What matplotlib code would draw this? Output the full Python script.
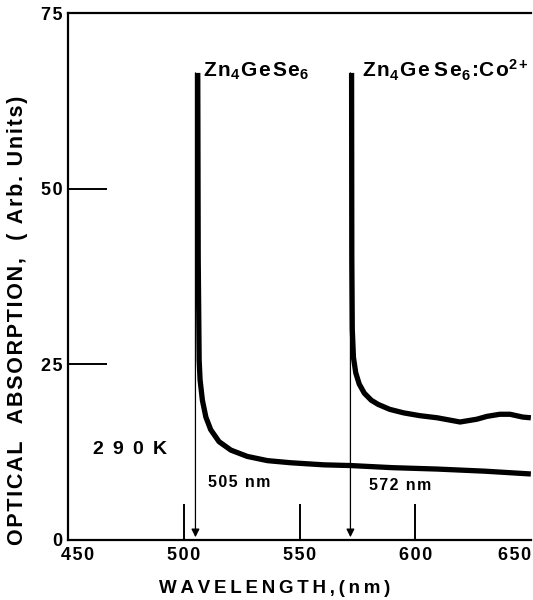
import matplotlib as mpl
mpl.use('Agg')
import matplotlib.pyplot as plt
from matplotlib.transforms import ScaledTranslation

mpl.rcParams['font.family'] = ['Liberation Sans', 'DejaVu Sans']
mpl.rcParams['font.weight'] = 'bold'
mpl.rcParams['mathtext.fontset'] = 'custom'
mpl.rcParams['mathtext.rm'] = 'Liberation Sans:bold'
mpl.rcParams['mathtext.it'] = 'Liberation Sans:bold'
mpl.rcParams['mathtext.bf'] = 'Liberation Sans:bold'
mpl.rcParams['mathtext.default'] = 'regular'

# Zn4GeSe6 (pure) absorption edge curve
wl_pure = [506.0, 506.2, 506.6, 507.0, 508.0, 509.5, 511.6, 515.2, 520.3, 527.4,
           536.1, 546.1, 560.5, 572.0, 590.0, 609.5, 630.0, 650.0]
abs_pure = [66.5, 40.0, 25.6, 22.8, 19.9, 17.5, 15.7, 14.0, 12.8, 11.9,
            11.3, 11.0, 10.7, 10.6, 10.3, 10.1, 9.8, 9.4]

# Zn4GeSe6:Co2+ curve
wl_co = [572.5, 572.6, 572.8, 573.3, 574.3, 575.8, 578.0, 581.0, 584.0, 589.0,
         595.0, 602.0, 609.5, 619.4, 626.7, 631.0, 636.6, 641.0, 646.5, 650.0]
abs_co = [66.5, 40.0, 30.0, 26.0, 23.8, 22.2, 20.9, 19.9, 19.3, 18.6,
          18.1, 17.7, 17.4, 16.8, 17.2, 17.6, 17.9, 17.9, 17.5, 17.4]

edges = [505, 572]
edge_labels = ['505 nm', '572 nm']
xticks = [450, 500, 550, 600, 650]
yticks = [0, 25, 50, 75]

TS = '\u2009'  # thin space
HS = '\u200a'  # hair space, the original lettering is widely spaced


def spaced(s, gap=TS):
    return gap.join(s)


fig = plt.figure(figsize=(5.33, 6.0), dpi=100)
ax = fig.add_axes([0.128, 0.1, 0.868, 0.878])

ax.plot(wl_pure, abs_pure, color='black', lw=3.8, solid_capstyle='butt', solid_joinstyle='round')
ax.plot(wl_co, abs_co, color='black', lw=3.8, solid_capstyle='butt', solid_joinstyle='round')

for e in edges:
    ax.annotate('', xy=(e, 0.4), xytext=(e, 66.5),
                arrowprops=dict(arrowstyle='-|>', color='black', lw=0.9,
                                mutation_scale=12, shrinkA=0, shrinkB=0))

ax.text(510.3, 8.2, spaced(edge_labels[0], HS), fontsize=11.5, fontweight='bold', va='center', ha='left')
ax.text(580.2, 7.8, spaced(edge_labels[1], HS), fontsize=11.5, fontweight='bold', va='center', ha='left')
ax.text(460.5, 12.9, spaced('290K', ' ' + TS), fontsize=14, fontweight='bold', va='center', ha='left')
ax.text(508.4, 65.9, r'Z' + HS + r'n$_4$' + HS + 'G' + HS + 'e' + HS + 'S' + HS + r'e$_6$',
        fontsize=15, fontweight='bold', va='baseline', ha='left')
ax.text(577.0, 65.9, r'Z' + HS + r'n$_4$' + HS + 'G' + HS + 'e' + TS + 'S' + HS + r'e$_6$' + HS + ':'
        + 'C' + HS + r'o$^{2+}$', fontsize=15, fontweight='bold', va='baseline', ha='left')

ax.set_xlim(450, 650)
ax.set_ylim(0, 75)
ax.set_xticks(xticks)
ax.set_xticklabels([spaced(str(v), HS) for v in xticks])
ax.set_yticks(yticks)
ax.set_yticklabels([spaced(str(v), HS) for v in yticks])
ax.tick_params(direction='in', length=26, width=1.4, labelsize=13, pad=5)
ax.tick_params(axis='y', length=28, pad=4)
for t in [ax.xaxis.get_major_ticks()[0], ax.xaxis.get_major_ticks()[-1],
          ax.yaxis.get_major_ticks()[0], ax.yaxis.get_major_ticks()[-1]]:
    t.tick1line.set_visible(False)
labs = ax.get_xticklabels()
labs[0].set_ha('left')
labs[0].set_transform(labs[0].get_transform() + ScaledTranslation(-0.07, 0, fig.dpi_scale_trans))
labs[-1].set_ha('right')
for lab in ax.get_xticklabels() + ax.get_yticklabels():
    lab.set_fontweight('bold')

ax.spines['right'].set_visible(False)
for s in ['left', 'bottom', 'top']:
    ax.spines[s].set_linewidth(1.6)

ax.set_xlabel(spaced('WAVELENGTH,(nm)'), fontsize=13.5, fontweight='bold')
ax.xaxis.set_label_coords(0.447, -0.075)
ax.set_ylabel(spaced('OPTICAL  ABSORPTION,  ( Arb. Units)', HS), fontsize=15.5, fontweight='bold')
ax.yaxis.set_label_coords(-0.086, 0.417)

fig.savefig('out.png', dpi=100)
